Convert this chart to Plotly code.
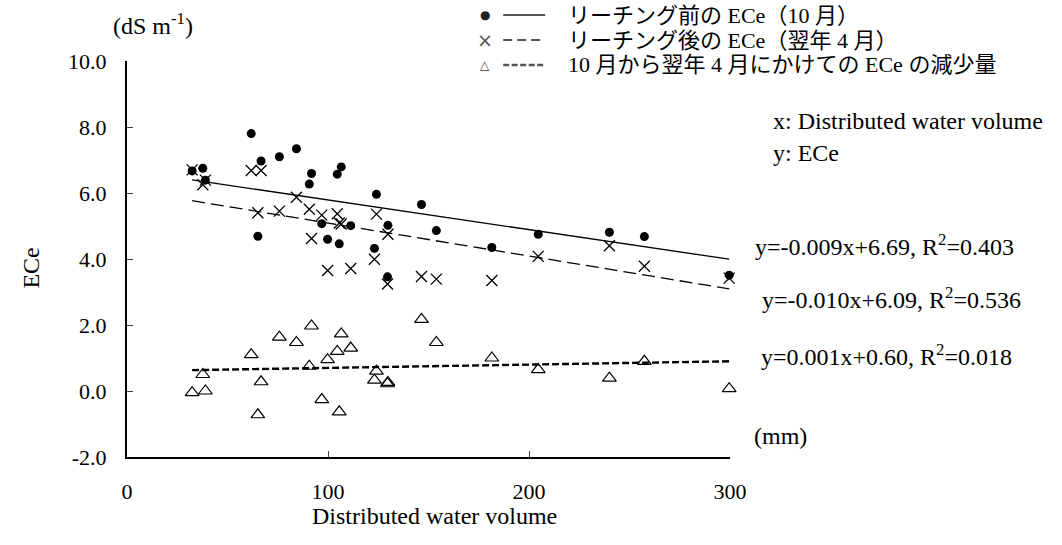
import plotly.graph_objects as go

# ---- data ----
water_mm = [32.4, 37.7, 39.0, 61.8, 66.7, 65.1, 75.8, 84.3, 91.8, 90.7, 96.9, 99.8, 104.6, 106.6,
            105.6, 111.3, 124.1, 123.1, 129.8, 129.6, 146.5, 153.9, 181.5, 204.6, 240.0, 257.4, 299.6]
ece_before = [6.67, 6.75, 6.39, 7.80, 6.97, 4.69, 7.10, 7.34, 6.59, 6.27, 5.07, 4.60, 6.57, 6.79,
              4.46, 5.01, 5.96, 4.32, 5.02, 3.46, 5.65, 4.86, 4.35, 4.75, 4.81, 4.68, 3.51]
ece_after = [6.70, 6.25, 6.39, 6.68, 6.68, 5.40, 5.45, 5.87, 4.62, 5.51, 5.33, 3.65, 5.37, 5.06,
             5.09, 3.71, 5.36, 3.99, 4.75, 3.24, 3.47, 3.39, 3.35, 4.08, 4.40, 3.78, 3.42]
ece_decrease = [-0.05, 0.50, 0.00, 1.10, 0.28, -0.72, 1.63, 1.47, 1.97, 0.75, -0.26, 0.95, 1.20, 1.73,
                -0.63, 1.30, 0.60, 0.33, 0.26, 0.22, 2.17, 1.47, 1.00, 0.65, 0.39, 0.90, 0.07]

fit_slopes = [-0.009, -0.010, 0.001]
fit_intercepts = [6.69, 6.09, 0.60]
fit_r2 = [0.403, 0.536, 0.018]

series_names = ["リーチング前の ECe（10 月）", "リーチング後の ECe（翌年 4 月）",
                "10 月から翌年 4 月にかけての ECe の減少量"]
legend_glyphs = ["●", "×", "△"]

x_ticks = [0, 100, 200, 300]
y_ticks = [-2, 0, 2, 4, 6, 8, 10]
y_tick_labels = ["-2.0", "0.0", "2.0", "4.0", "6.0", "8.0", "10.0"]

# ---- layout geometry (pixels) ----
W, H = 1062, 545
L, R, T, B = 126.5, 730, 61, 457
FONT = "Liberation Serif, Times New Roman, Noto Sans CJK JP, serif"
SYMFONT = "DejaVu Sans, sans-serif"


def px(x):
    return (x - L) / (R - L)


def py(y):
    return (B - y) / (B - T)


fig = go.Figure()

# scatter points
fig.add_trace(go.Scatter(x=water_mm, y=ece_before, mode="markers", cliponaxis=False,
                         marker=dict(symbol="circle", size=9, color="black"), showlegend=False))
fig.add_trace(go.Scatter(x=water_mm, y=ece_after, mode="markers", cliponaxis=False,
                         marker=dict(symbol="x-thin-open", size=11, color="black",
                                     line=dict(width=1.3, color="black")), showlegend=False))
fig.add_trace(go.Scatter(x=water_mm, y=ece_decrease, mode="markers", cliponaxis=False,
                         marker=dict(symbol="triangle-up-open", size=12, color="black",
                                     line=dict(width=1.2, color="black")), showlegend=False))

# regression lines
xmin, xmax = min(water_mm), max(water_mm)
line_styles = [dict(color="black", width=1.3, dash="solid"),
               dict(color="black", width=1.3, dash="13px,6px"),
               dict(color="black", width=2.4, dash="7px,3px")]
for s, b, st in zip(fit_slopes, fit_intercepts, line_styles):
    fig.add_trace(go.Scatter(x=[xmin, xmax], y=[s * xmin + b, s * xmax + b], mode="lines",
                             line=st, showlegend=False, hoverinfo="skip"))

# manual legend (top right)
leg_rows = [15, 40, 65]
leg_marker_x = 485
leg_line = (503, 545)
leg_text_x = 566
glyph_fonts = [dict(family=SYMFONT, size=12, color="#222"),
               dict(family=SYMFONT, size=19, color="#555"),
               dict(family="DejaVu Sans Bold, DejaVu Sans, sans-serif", size=12, color="#333")]
leg_dash = [dict(color="#555", width=2, dash="solid"),
            dict(color="#555", width=2, dash="9px,5px"),
            dict(color="#555", width=2.6, dash="6px,2.5px")]

shapes = []
annotations = []
for yrow, d, g, gf, name in zip(leg_rows, leg_dash, legend_glyphs, glyph_fonts, series_names):
    shapes.append(dict(type="line", xref="paper", yref="paper",
                       x0=px(leg_line[0]), x1=px(leg_line[1]), y0=py(yrow), y1=py(yrow), line=d))
    annotations.append(dict(text=("<b>%s</b>" % g) if g == "△" else g, xref="paper", yref="paper",
                            x=px(leg_marker_x), y=py(yrow), xanchor="center", yanchor="middle",
                            showarrow=False, font=gf))
    annotations.append(dict(text=name, xref="paper", yref="paper", x=px(leg_text_x), y=py(yrow),
                            xanchor="left", yanchor="middle", showarrow=False,
                            font=dict(family=FONT, size=22, color="black")))

# equation labels
eq_pos = [(753, 245), (760, 298), (759, 355)]
for (ex, ey), s, b, r2 in zip(eq_pos, fit_slopes, fit_intercepts, fit_r2):
    sign = "-" if s < 0 else ""
    txt = f"y={sign}{abs(s):.3f}x+{b:.2f}, R<sup>2</sup>={r2:.3f}"
    annotations.append(dict(text=txt, xref="paper", yref="paper", x=px(ex), y=py(ey),
                            xanchor="left", yanchor="middle", showarrow=False,
                            font=dict(family=FONT, size=24, color="black")))

extra = [
    dict(text="x: Distributed water volume", x=px(771), y=py(121), xanchor="left"),
    dict(text="y: ECe", x=px(771), y=py(153), xanchor="left"),
    dict(text="(mm)", x=px(752), y=py(436), xanchor="left"),
    dict(text="(dS m<sup>-1</sup>)", x=px(153), y=py(24), xanchor="center"),
    dict(text="Distributed water volume", x=px(434), y=py(516), xanchor="center"),
    dict(text="ECe", x=px(30), y=py(268), xanchor="center", textangle=-90),
]
for a in extra:
    a.update(xref="paper", yref="paper", yanchor="middle", showarrow=False,
             font=dict(family=FONT, size=24, color="black"))
annotations += extra

fig.update_layout(
    width=W, height=H,
    margin=dict(l=L, r=W - R, t=T, b=H - B, pad=0),
    paper_bgcolor="white", plot_bgcolor="white",
    font=dict(family=FONT, size=22, color="black"),
    showlegend=False,
    shapes=shapes,
    annotations=annotations,
    xaxis=dict(range=[0, 300], tickvals=x_ticks, ticks="inside", ticklen=6, tickwidth=1,
               tickcolor="#444", showline=True, linecolor="black", linewidth=2,
               showgrid=False, zeroline=False, ticklabelstandoff=14,
               tickfont=dict(family=FONT, size=22, color="black")),
    yaxis=dict(range=[-2, 10], tickvals=y_ticks, ticktext=y_tick_labels, ticks="inside",
               ticklen=6, tickwidth=1, tickcolor="#444", showline=True, linecolor="black",
               linewidth=2, showgrid=False, zeroline=False, ticklabelstandoff=14,
               tickfont=dict(family=FONT, size=22, color="black")),
)

fig.write_html("out.html")
